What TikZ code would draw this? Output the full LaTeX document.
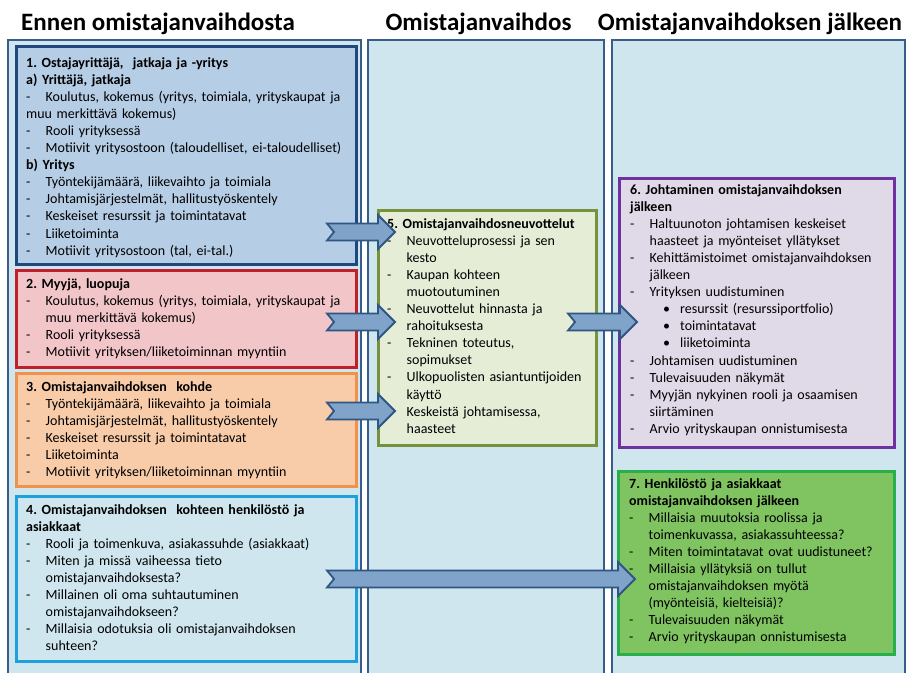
\documentclass[tikz,border=0pt]{standalone}
\usepackage{fontspec}
\setmainfont{Carlito}
\usetikzlibrary{calc}
\frenchspacing
\definecolor{colfill}{RGB}{207,230,238}
\definecolor{colline}{RGB}{56,93,138}
\definecolor{fillA}{RGB}{181,205,229}
\definecolor{lineA}{RGB}{31,73,125}
\definecolor{fillB}{RGB}{242,197,201}
\definecolor{lineB}{RGB}{192,32,42}
\definecolor{fillC}{RGB}{248,204,169}
\definecolor{lineC}{RGB}{240,146,76}
\definecolor{lineD}{RGB}{30,160,220}
\definecolor{fillE}{RGB}{229,237,215}
\definecolor{lineE}{RGB}{118,146,60}
\definecolor{fillF}{RGB}{224,218,232}
\definecolor{lineF}{RGB}{112,48,160}
\definecolor{fillG}{RGB}{128,196,98}
\definecolor{lineG}{RGB}{40,175,75}
\definecolor{arrfill}{RGB}{128,163,201}
\definecolor{arrline}{RGB}{47,85,130}
\newcommand{\dl}{\par\noindent\hangindent=19.5pt\hangafter=1\makebox[19.5pt][l]{-}}
\newcommand{\dlplain}{\par\noindent\makebox[19.5pt][l]{-}}
\newcommand{\bl}{\par\noindent\hspace*{33pt}\makebox[17pt][l]{\textbullet}}
\newcommand{\blockarrow}[2]{%
  \draw[barrow] let \p1=(#1), \p2=(#2) in
    (\x1,\y1+8.5pt) -- (\x2-17pt,\y1+8.5pt) -- (\x2-17pt,\y1+17pt) -- (\x2,\y1)
    -- (\x2-17pt,\y1-17pt) -- (\x2-17pt,\y1-8.5pt) -- (\x1,\y1-8.5pt)
    -- (\x1+7pt,\y1) -- cycle;}
\begin{document}
\begin{tikzpicture}[x=1pt,y=-1pt,
  colbox/.style={draw=colline, line width=2pt, fill=colfill, anchor=north west, inner sep=0pt},
  box/.style={line width=2.5pt, anchor=north west, inner sep=0pt},
  txt/.style={anchor=base west, inner sep=0pt, text width=335pt, font=\fontsize{14}{17.1}\selectfont\frenchspacing},
  head/.style={anchor=base, inner sep=0pt, font=\fontsize{25}{30}\selectfont\bfseries},
  barrow/.style={fill=arrfill, draw=arrline, line width=1.8pt, line join=miter}]
\clip (0,0) rectangle (907,672);
\fill[white] (0,0) rectangle (907,672);
% headings
\node[head] (h1) at (158,30) {Ennen omistajanvaihdosta};
\node[head] (h2) at (478.5,30) {Omistajanvaihdos};
\node[head] (h3) at (750,30) {Omistajanvaihdoksen jälkeen};
% columns
\node[colbox, minimum width=353pt, minimum height=680pt] (c1) at (7,39) {};
\node[colbox, minimum width=236pt, minimum height=680pt] (c2) at (367,39) {};
\node[colbox, minimum width=293pt, minimum height=680pt] (c3) at (611,39) {};
% boxes
\node[box, draw=lineA, fill=fillA, minimum width=340pt, minimum height=218pt] (b1) at (15,45) {};
\node[box, draw=lineB, fill=fillB, minimum width=340pt, minimum height=97pt] (b2) at (15,269) {};
\node[box, draw=lineC, fill=fillC, minimum width=340pt, minimum height=113pt] (b3) at (15,372) {};
\node[box, draw=lineD, fill=colfill, minimum width=340pt, minimum height=165pt] (b4) at (15,495) {};
\node[box, draw=lineE, fill=fillE, minimum width=218pt, minimum height=235pt] (b5) at (377,209) {};
\node[box, draw=lineF, fill=fillF, minimum width=275pt, minimum height=269pt] (b6) at (618,177) {};
\node[box, draw=lineG, fill=fillG, minimum width=276pt, minimum height=183pt] (b7) at (617,470) {};
% texts
\node[txt] (t1) at (26,67) {\noindent\textbf{1. Ostajayrittäjä,\ \ jatkaja ja -yritys}
\par\noindent\textbf{a) Yrittäjä, jatkaja}
\dlplain Koulutus, kokemus (yritys, toimiala, yrityskaupat ja\newline muu merkittävä kokemus)
\dl Rooli yrityksessä
\dl Motiivit yritysostoon (taloudelliset, ei-taloudelliset)
\par\noindent\textbf{b) Yritys}
\dl Työntekijämäärä, liikevaihto ja toimiala
\dl Johtamisjärjestelmät, hallitustyöskentely
\dl Keskeiset resurssit ja toimintatavat
\dl Liiketoiminta
\dl Motiivit yritysostoon (tal, ei-tal.)\par};
\node[txt] (t2) at (26,288) {\noindent\textbf{2. Myyjä, luopuja}
\dl Koulutus, kokemus (yritys, toimiala, yrityskaupat ja\newline muu merkittävä kokemus)
\dl Rooli yrityksessä
\dl Motiivit yrityksen/liiketoiminnan myyntiin\par};
\node[txt] (t3) at (26,391) {\noindent\textbf{3. Omistajanvaihdoksen\ \ kohde}
\dl Työntekijämäärä, liikevaihto ja toimiala
\dl Johtamisjärjestelmät, hallitustyöskentely
\dl Keskeiset resurssit ja toimintatavat
\dl Liiketoiminta
\dl Motiivit yrityksen/liiketoiminnan myyntiin\par};
\node[txt] (t4) at (26,514) {\noindent\textbf{4. Omistajanvaihdoksen\ \ kohteen henkilöstö ja\newline asiakkaat}
\dl Rooli ja toimenkuva, asiakassuhde (asiakkaat)
\dl Miten ja missä vaiheessa tieto\newline omistajanvaihdoksesta?
\dl Millainen oli oma suhtautuminen\newline omistajanvaihdokseen?
\dl Millaisia odotuksia oli omistajanvaihdoksen\newline suhteen?\par};
\node[txt] (t5) at (387,228) {\noindent\textbf{5. Omistajanvaihdosneuvottelut}
\dl Neuvotteluprosessi ja sen\newline kesto
\dl Kaupan kohteen\newline muotoutuminen
\dl Neuvottelut hinnasta ja\newline rahoituksesta
\dl Tekninen toteutus,\newline sopimukset
\dl Ulkopuolisten asiantuntijoiden\newline käyttö
\dl Keskeistä johtamisessa,\newline haasteet\par};
\node[txt] (t6) at (630,194) {\noindent\textbf{6. Johtaminen omistajanvaihdoksen\newline jälkeen}
\dl Haltuunoton johtamisen keskeiset\newline haasteet ja myönteiset yllätykset
\dl Kehittämistoimet omistajanvaihdoksen\newline jälkeen
\dl Yrityksen uudistuminen
\bl resurssit (resurssiportfolio)
\bl toimintatavat
\bl liiketoiminta
\dl Johtamisen uudistuminen
\dl Tulevaisuuden näkymät
\dl Myyjän nykyinen rooli ja osaamisen\newline siirtäminen
\dl Arvio yrityskaupan onnistumisesta\par};
\node[txt] (t7) at (629,488) {\noindent\textbf{7. Henkilöstö ja asiakkaat\newline omistajanvaihdoksen jälkeen}
\dl Millaisia muutoksia roolissa ja\newline toimenkuvassa, asiakassuhteessa?
\dl Miten toimintatavat ovat uudistuneet?
\dl Millaisia yllätyksiä on tullut\newline omistajanvaihdoksen myötä\newline (myönteisiä, kielteisiä)?
\dl Tulevaisuuden näkymät
\dl Arvio yrityskaupan onnistumisesta\par};
% arrows
\coordinate (a1s) at (327,232); \coordinate (a1e) at (395,232);
\coordinate (a2s) at (327,322); \coordinate (a2e) at (395,322);
\coordinate (a3s) at (327,411); \coordinate (a3e) at (395,411);
\coordinate (a4s) at (568,322); \coordinate (a4e) at (637,322);
\coordinate (a5s) at (327,579); \coordinate (a5e) at (635,579);
\blockarrow{a1s}{a1e}
\blockarrow{a2s}{a2e}
\blockarrow{a3s}{a3e}
\blockarrow{a4s}{a4e}
\blockarrow{a5s}{a5e}
\end{tikzpicture}
\end{document}
